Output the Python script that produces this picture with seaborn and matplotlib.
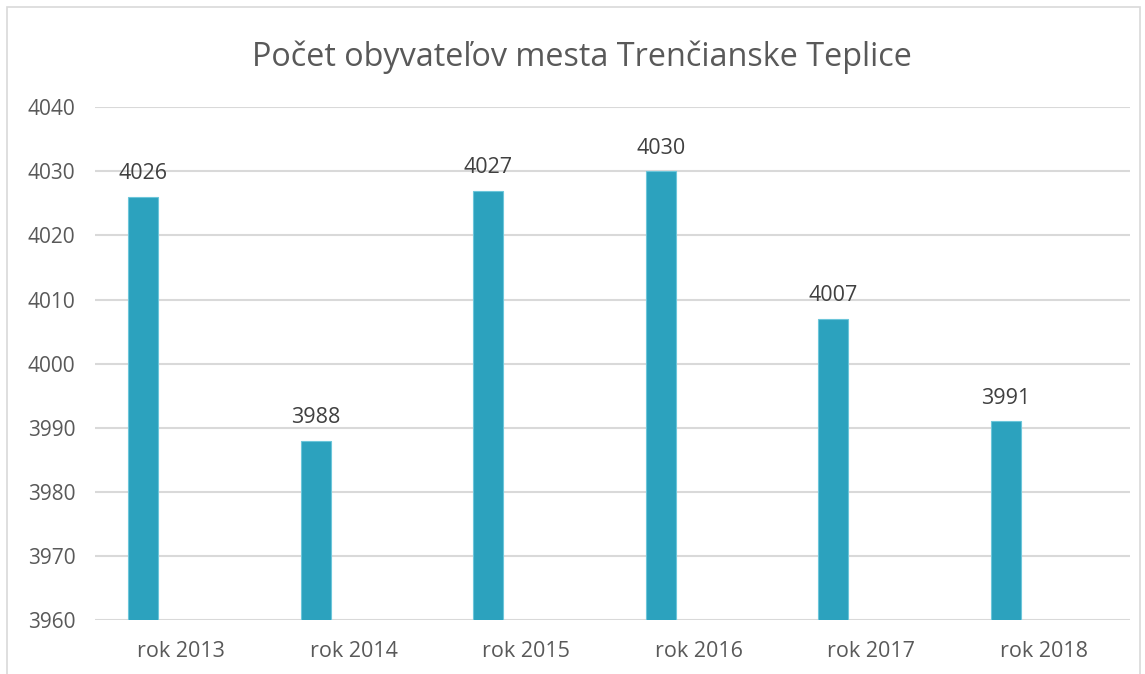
import numpy as np
import pandas as pd
import matplotlib.pyplot as plt
import seaborn as sns
from matplotlib.patches import Rectangle

# data
years = ["rok 2013", "rok 2014", "rok 2015", "rok 2016", "rok 2017", "rok 2018"]
population = [4026, 3988, 4027, 4030, 4007, 3991]
y_ticks = [3960, 3970, 3980, 3990, 4000, 4010, 4020, 4030, 4040]

# second (empty) series keeps the Excel-like left offset of the bars
df = pd.DataFrame({
    "rok": years * 2,
    "obyvatelia": population + [np.nan] * len(years),
    "seria": ["a"] * len(years) + ["b"] * len(years),
})

sns.set_style("white")
plt.rcParams["font.family"] = ["Open Sans", "DejaVu Sans"]

fig = plt.figure(figsize=(11.45, 6.74), dpi=100)
ax = fig.add_axes([0.083, 0.080, 0.904, 0.761])

sns.barplot(data=df, x="rok", y="obyvatelia", hue="seria", hue_order=["a", "b"],
            order=years, width=0.88, gap=0.605, errorbar=None, legend=False,
            palette=["#2CA2BE", "#2CA2BE"], saturation=1,
            edgecolor="#6cc6da", linewidth=0.8, ax=ax)

ax.set_ylim(3960, 4040)
ax.set_yticks(y_ticks)
ax.set_xlim(-0.5, len(years) - 0.5)
ax.yaxis.grid(True, color="#d9d9d9", linewidth=1.5)
ax.set_axisbelow(True)
for s in ax.spines.values():
    s.set_visible(False)
ax.tick_params(axis="both", length=0, labelsize=15.5, labelcolor="#595959")
ax.tick_params(axis="y", labelsize=15, pad=14)
ax.tick_params(axis="x", pad=15)
ax.set_xlabel("")
ax.set_ylabel("")

# value labels
for c in ax.containers[:1]:
    ax.bar_label(c, labels=[str(v) for v in population], padding=9,
                 fontsize=15.5, color="#404040")

fig.text(0.508, 0.915, "Počet obyvateľov mesta Trenčianske Teplice",
         ha="center", va="center", fontsize=23.3, color="#595959")

fig.patches.append(Rectangle((0.006, -0.01), 0.99, 1.0, transform=fig.transFigure,
                             fill=False, edgecolor="#d9d9d9", linewidth=1.2))

fig.savefig("out.png", dpi=100)
